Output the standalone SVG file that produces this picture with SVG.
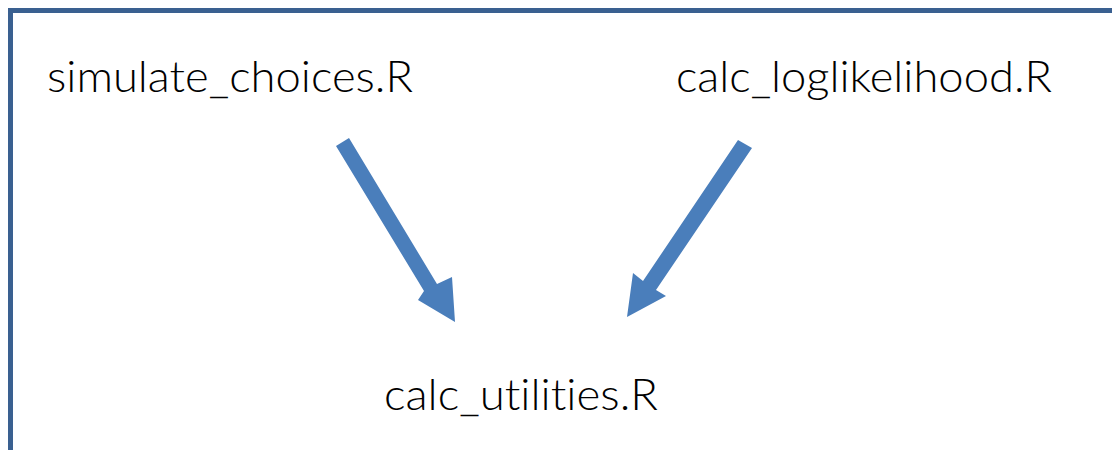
<svg xmlns="http://www.w3.org/2000/svg" width="1112" height="450" viewBox="0 0 1112 450">
<style>
.lbl{font-family:Lato,"Open Sans","Liberation Sans",sans-serif;font-weight:300;font-size:44px;font-variant-ligatures:none;font-feature-settings:"liga" 0;fill:#000}
.arr{fill:#4a7ebb}
</style>
<rect width="1112" height="450" fill="#fff"/>
<rect id="frame" x="10.5" y="10.5" width="1200" height="500" fill="none" stroke="#3a6090" stroke-width="5"/>
<g id="n-simulate"><text class="lbl" x="47" y="92" textLength="366" lengthAdjust="spacingAndGlyphs">simulate_choices.R</text></g>
<g id="n-loglik"><text class="lbl" x="676" y="92" textLength="376" lengthAdjust="spacingAndGlyphs">calc_loglikelihood.R</text></g>
<g id="n-util"><text class="lbl" x="384" y="410" textLength="274" lengthAdjust="spacingAndGlyphs">calc_utilities.R</text></g>
<g id="connectors">
<polygon class="arr" points="336,146 349,138 437,284 452,277 455,322 418,300 424,291"/>
<polygon class="arr" points="738,140 752,148 656,290 666,296 627,317 633,273 643,281"/>
</g>
</svg>
